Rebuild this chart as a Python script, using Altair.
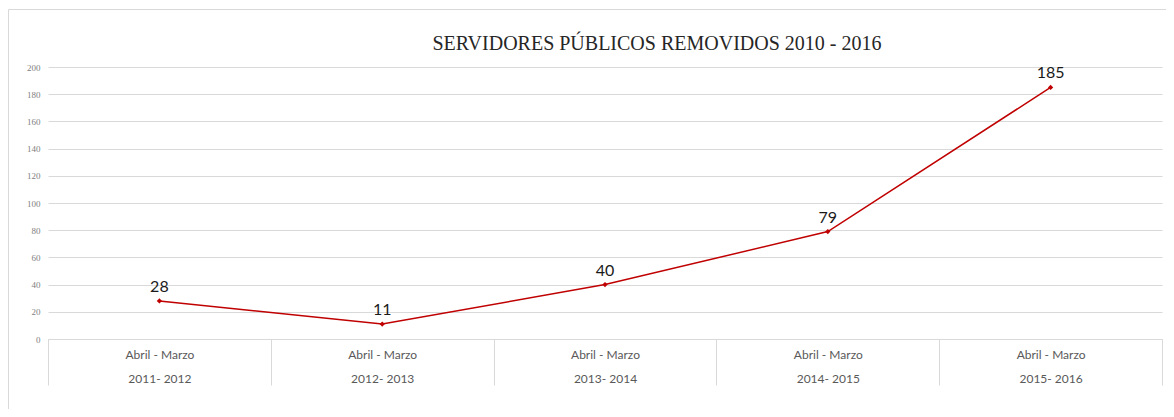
import altair as alt
import pandas as pd

periods = ["Abril - Marzo|2011- 2012", "Abril - Marzo|2012- 2013", "Abril - Marzo|2013- 2014",
           "Abril - Marzo|2014- 2015", "Abril - Marzo|2015- 2016"]
values = [28, 11, 40, 79, 185]
y_ticks = list(range(0, 201, 20))
title_text = "SERVIDORES PÚBLICOS  REMOVIDOS 2010 - 2016"

df = pd.DataFrame({"periodo": periods, "valor": values})

W, H = 1114, 272
RED = "#C00000"
GRID = "#d9d9d9"

x = alt.X("periodo:N", sort=periods,
          scale=alt.Scale(type="band", paddingInner=0, paddingOuter=0),
          axis=alt.Axis(title=None, labelAngle=0, tickBand="extent", tickSize=46,
                        tickColor=GRID, domainColor=GRID, labelPadding=-36,
                        labelExpr="split(datum.label, '|')", labelLineHeight=24,
                        labelFont="Lato", labelFontSize=12, labelColor="#595959",
                        grid=False))
y = alt.Y("valor:Q", scale=alt.Scale(domain=[0, 200]),
          axis=alt.Axis(title=None, values=y_ticks, grid=True, gridColor=GRID,
                        domain=False, ticks=False, labelPadding=8,
                        labelFont="Liberation Serif", labelFontSize=9, labelColor="#808080"))

base = alt.Chart(df)
line = base.mark_line(color=RED, strokeWidth=1.5).encode(x=x, y=y)
pts = base.mark_point(shape="diamond", filled=True, color=RED, size=28, opacity=1).encode(x=x, y=y)
labels = base.mark_text(baseline="bottom", dy=-6, font="Lato", fontSize=16, color="#1a1a1a").encode(
    x=x, y=y, text="valor:Q")

one = alt.Data(values=[{}])
frame = alt.Chart(one).mark_rect(fill=None, stroke=GRID, strokeWidth=1).encode(
    x=alt.value(-39.5), x2=alt.value(1140), y=alt.value(-57.5), y2=alt.value(380))
title = alt.Chart(one).mark_text(text=title_text, font="Liberation Serif", fontSize=20,
                                 color="#262626", align="center", baseline="alphabetic").encode(
    x=alt.value(609), y=alt.value(-17))

chart = alt.layer(frame, title, line, pts, labels).properties(
    width=W, height=H,
    autosize=alt.AutoSizeParams(type="none"),
    padding={"left": 40, "top": 59, "right": 4, "bottom": 70},
).configure_view(stroke=None)

chart.save("out.html", embed_options={"renderer": "svg", "actions": False})
